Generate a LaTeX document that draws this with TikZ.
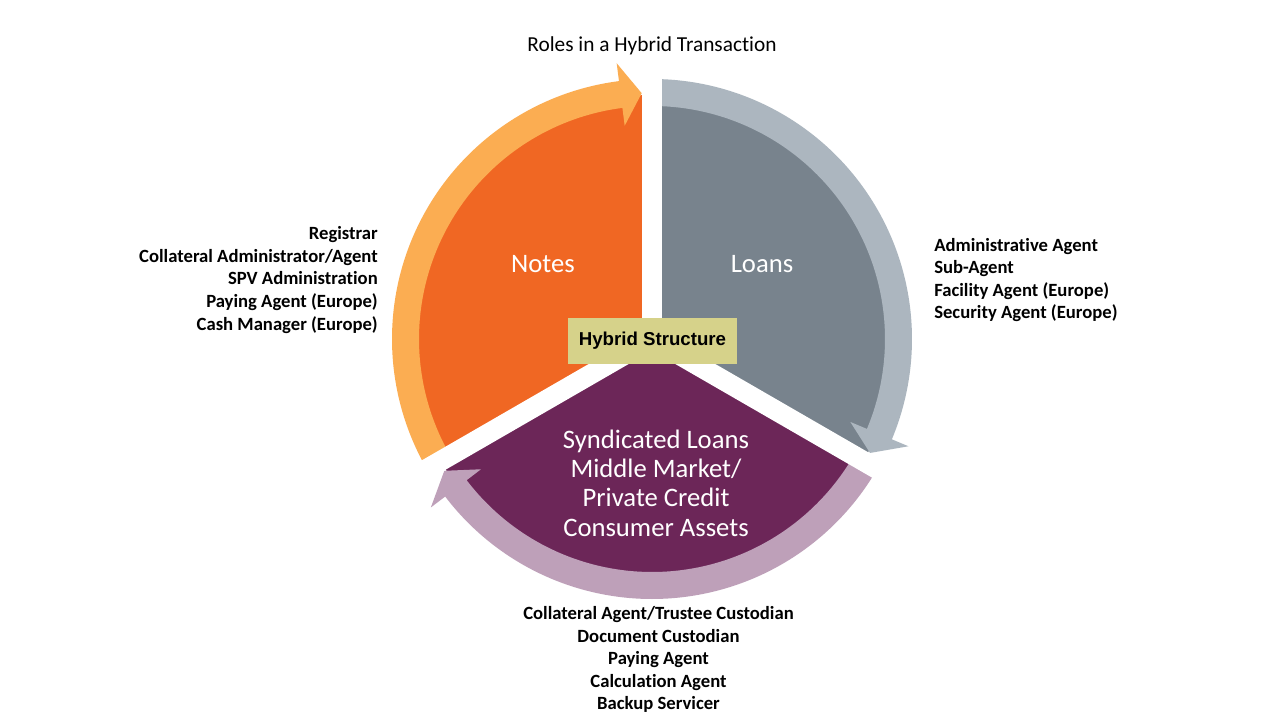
\documentclass[tikz,border=0pt]{standalone}
\usepackage{fontspec}
\setmainfont{Carlito}[Ligatures=NoCommon]
\newfontfamily\arialfont{Liberation Sans}
\definecolor{cOrange}{HTML}{F06723}
\definecolor{cOrangeL}{HTML}{FBAD52}
\definecolor{cGray}{HTML}{78838D}
\definecolor{cGrayL}{HTML}{ACB6BF}
\definecolor{cPurple}{HTML}{6C2658}
\definecolor{cPurpleL}{HTML}{BEA0B9}
\definecolor{cBox}{HTML}{D6D28A}
\tikzset{
  lbl/.style={font=\bfseries\fontsize{14}{16.9}\selectfont, inner sep=0pt},
  seclbl/.style={text=white, font=\fontsize{20}{22}\selectfont, align=center, inner sep=0pt},
  gapline/.style={white, line width=15pt},
}
\begin{document}
\begin{tikzpicture}[x=0.75pt,y=0.75pt]
\useasboundingbox[fill=white] (-652,-381) rectangle (628,339);
% sectors
\fill[cOrange] (0,0) -- (90:244) arc[start angle=90, end angle=210, radius=244] -- cycle;
\fill[cGray] (0,0) -- (-30:244) arc[start angle=-30, end angle=90, radius=244] -- cycle;
\fill[cPurple] (0,0) -- (210:244) arc[start angle=210, end angle=330, radius=244] -- cycle;
% arrow bands
\fill[cOrangeL] (210:260) arc[start angle=210, end angle=97.3, radius=260] -- (97.3:278) -- (92.4:246) -- (97.3:215) -- (97.3:233) arc[start angle=97.3, end angle=210, radius=233] -- cycle;
\fill[cGrayL] (90:260) arc[start angle=90, end angle=-22.7, radius=260] -- (-22.7:278) -- (-27.6:246) -- (-22.7:215) -- (-22.7:233) arc[start angle=-22.7, end angle=90, radius=233] -- cycle;
\fill[cPurpleL] (330:260) arc[start angle=330, end angle=217.3, radius=260] -- (217.3:278) -- (212.4:246) -- (217.3:215) -- (217.3:233) arc[start angle=217.3, end angle=330, radius=233] -- cycle;
% gaps
\draw[gapline] (0,0) -- (90:300);
\draw[gapline] (0,0) -- (210:300);
\draw[gapline] (0,0) -- (330:300);
% texts
\node[font=\fontsize{16}{19}\selectfont, inner sep=0pt] (title) at (0,293) {Roles in a Hybrid Transaction};
\node[seclbl] (notes) at (-109,75) {Notes};
\node[seclbl] (loans) at (110,75) {Loans};
\node[seclbl] (synd) at (4,-144) {Syndicated Loans\\Middle Market/\\Private Credit\\Consumer Assets};
\node[fill=cBox, minimum width=126.75pt, minimum height=34.5pt, inner sep=0pt, font=\arialfont\bfseries\fontsize{14}{16}\selectfont] (hybrid) at (0.5,-2) {Hybrid Structure};
\node[lbl, align=right, anchor=east] (leftroles) at (-274,59) {Registrar\\Collateral Administrator/Agent\\SPV Administration\\Paying Agent (Europe)\\Cash Manager (Europe)};
\node[lbl, align=left, anchor=west] (rightroles) at (282,59) {Administrative Agent\\Sub-Agent\\Facility Agent (Europe)\\Security Agent (Europe)};
\node[lbl, align=center] (bottomroles) at (6.5,-320.5) {Collateral Agent/Trustee Custodian\\Document Custodian\\Paying Agent\\Calculation Agent\\Backup Servicer};
\end{tikzpicture}
\end{document}
